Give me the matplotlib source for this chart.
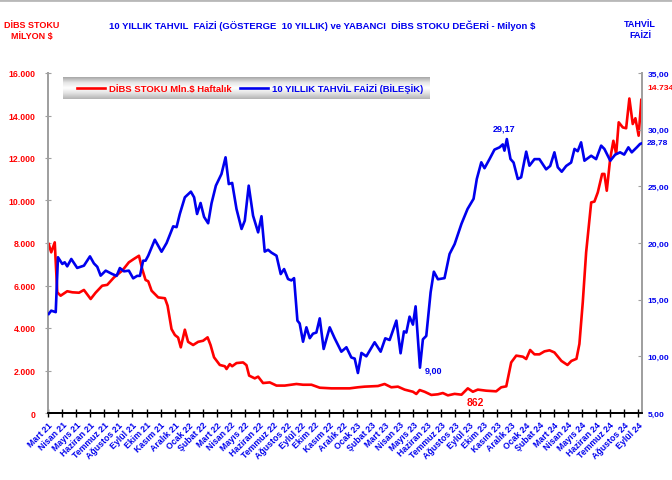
import matplotlib
matplotlib.use("Agg")
import matplotlib.pyplot as plt
import numpy as np
from matplotlib.lines import Line2D
from matplotlib.colors import LinearSegmentedColormap
from matplotlib.ticker import FuncFormatter, MultipleLocator

plt.rcParams['font.family'] = ['Liberation Sans Narrow', 'Liberation Sans', 'DejaVu Sans']
plt.rcParams['font.weight'] = 'bold'

RED = "#ff0000"
BLUE = "#0000ee"

# month labels (Mart 21 .. Eylul 24), one per month
month_names = ["Mart", "Nisan", "Mayıs", "Haziran", "Temmuz", "Ağustos", "Eylül",
               "Ekim", "Kasım", "Aralık", "Ocak", "Şubat"]
years = [21] * 10 + [22] * 12 + [23] * 12 + [24] * 9
month_labels = [f"{month_names[i % 12]} {years[i]}" for i in range(43)]

# DIBS stock of foreign investors, mln $ (x in months since Mart 21)
dibs_x = [0.03, 0.21, 0.46, 0.64, 0.88, 1.35, 1.71, 2.19, 2.54, 3.02, 3.37, 3.84, 4.20,
          4.68, 5.27, 5.74, 6.10, 6.46, 6.69, 6.93, 7.12, 7.36, 7.83, 8.31, 8.50, 8.78,
          9.02, 9.25, 9.44, 9.73, 9.96, 10.32, 10.68, 11.03, 11.35, 11.56, 11.81, 12.22,
          12.58, 12.70, 12.93, 13.10, 13.41, 13.88, 14.12, 14.31, 14.71, 14.95, 15.30,
          15.78, 16.26, 16.85, 17.68, 18.15, 18.75, 19.34, 20.17, 20.88, 21.47, 22.06,
          22.54, 23.49, 23.96, 24.44, 24.91, 25.39, 25.98, 26.22, 26.46, 26.81, 27.29,
          27.76, 28.11, 28.47, 28.95, 29.44, 29.89, 30.25, 30.60, 31.20, 31.91, 32.27,
          32.63, 32.98, 33.34, 33.81, 34.05, 34.33, 34.64, 34.99, 35.35, 35.71, 36.06,
          36.56, 36.99, 37.27, 37.63, 37.84, 38.08, 38.32, 38.68, 38.91, 39.15, 39.46,
          39.62, 39.79, 40.03, 40.26, 40.46, 40.64, 40.93, 41.17, 41.40, 41.64, 41.83,
          42.06, 42.25]
dibs_y = [7950, 7560, 8030, 5680, 5520, 5730, 5680, 5660, 5790, 5365, 5660, 5990, 6030,
          6380, 6700, 7090, 7250, 7400, 6780, 6260, 6200, 5755, 5440, 5400, 5050, 3950,
          3670, 3550, 3090, 3920, 3350, 3200, 3350, 3400, 3560, 3200, 2620, 2260,
          2200, 2070, 2300, 2200, 2350, 2380, 2250, 1760, 1630, 1710, 1410,
          1440, 1290, 1290, 1365, 1330, 1330, 1190, 1160, 1160, 1160, 1210,
          1240, 1270, 1365, 1210, 1240, 1100, 1000, 895, 1080, 1000, 850,
          880, 940, 830, 900, 862, 1160, 1000, 1100, 1050, 1020, 1210,
          1255, 2380, 2700, 2650, 2540, 2965, 2760, 2760, 2900, 2950, 2850,
          2450, 2260, 2450, 2550, 3250, 5210, 7560, 9910, 9950, 10380, 11250,
          11250, 10460, 11950, 12810, 12190, 13680, 13440, 13400, 14800, 13600, 13870,
          13050, 14734]

# 10-year bond yield, % (compound)
bond_x = [0.03, 0.21, 0.53, 0.69, 1.00, 1.17, 1.35, 1.64, 2.06, 2.54, 2.97, 3.25, 3.49,
          3.73, 4.09, 4.56, 4.87, 5.10, 5.39, 5.74, 6.05, 6.33, 6.53, 6.76, 6.93, 7.12,
          7.59, 8.07, 8.43, 8.90, 9.14, 9.37, 9.73, 10.16, 10.39, 10.60, 10.85, 11.10,
          11.39, 11.63, 11.94, 12.34, 12.63, 12.86, 13.10, 13.41, 13.77, 14.00, 14.28,
          14.59, 14.95, 15.19, 15.42, 15.66, 15.90, 16.26, 16.56, 16.80, 17.08, 17.32,
          17.51, 17.75, 17.91, 18.15, 18.39, 18.63, 18.86, 19.10, 19.34, 19.62, 20.05,
          20.40, 20.88, 21.24, 21.59, 21.83, 22.06, 22.31, 22.66, 23.25, 23.68, 24.01,
          24.32, 24.80, 25.10, 25.34, 25.51, 25.74, 25.98, 26.17, 26.48, 26.69, 26.93,
          27.24, 27.47, 27.76, 28.23, 28.59, 28.95, 29.44, 29.87, 30.30, 30.53, 30.85,
          31.08, 31.44, 31.79, 32.15, 32.38, 32.50, 32.67, 32.93, 33.15, 33.45, 33.69,
          34.05, 34.28, 34.64, 34.99, 35.47, 35.76, 36.06, 36.30, 36.58, 36.90, 37.25,
          37.49, 37.72, 37.96, 38.20, 38.68, 39.03, 39.39, 39.62, 40.04, 40.39, 40.74,
          41.03, 41.33, 41.57, 41.93, 42.16, 42.25]
bond_y = [13.74, 14.03, 13.9, 18.74, 18.15, 18.3, 17.94, 18.59, 17.8, 18.0, 18.82, 18.2,
          17.9, 17.12, 17.56, 17.26, 17.1, 17.79, 17.5, 17.56, 16.88, 17.1, 17.1, 18.44,
          18.44, 18.88, 20.29, 19.23, 20.0, 21.47, 21.4, 22.56, 24.03, 24.53, 24.03, 22.56,
          23.53, 22.3, 21.74, 23.5, 25.06, 26.09, 27.56, 25.2, 25.3, 23.0, 21.24, 21.97,
          25.06, 22.41, 20.94, 22.36, 19.24, 19.4, 19.15, 18.88, 17.26, 17.7, 16.82, 16.7,
          16.9, 13.15, 12.9, 11.29, 12.56, 11.6, 12.0, 12.1, 13.35, 10.65, 12.56, 11.6,
          10.41, 10.8, 9.9, 9.8, 8.53, 10.3, 10.0, 11.24, 10.41, 11.59, 11.44, 13.15,
          10.27, 12.2, 12.1, 13.5, 12.8, 14.41, 9.00, 11.5, 11.8, 15.65, 17.47, 16.8,
          16.9, 19.03, 19.9, 21.7, 23.0, 23.9, 25.65, 27.12, 26.6, 27.41, 28.24, 28.44,
          28.7, 28.15, 29.17, 27.41, 27.1, 25.65, 25.8, 28.06, 26.82, 27.4, 27.4, 26.5,
          26.8, 28.0, 26.68, 26.29, 26.8, 27.1, 28.3, 28.1, 28.88, 27.26, 27.7, 27.4,
          28.59, 28.3, 27.26, 27.8, 28.0, 27.8, 28.44, 28.0, 28.44, 28.74, 28.78]

fig = plt.figure(figsize=(6.72, 4.81), dpi=100)
ax = fig.add_axes([48 / 672, 1 - 414 / 481, 594 / 672, 340 / 481])
ax2 = ax.twinx()

l1, = ax.plot(dibs_x, dibs_y, color=RED, lw=1.9, solid_joinstyle="round",
              label="DİBS STOKU Mln.$ Haftalık", zorder=3)
l2, = ax2.plot(bond_x, bond_y, color=BLUE, lw=1.9, solid_joinstyle="round",
               label="10 YILLIK TAHVİL FAİZİ (BİLEŞİK)", zorder=3)

ax.set_xlim(-0.02, 42.3)
ax.set_ylim(0, 16000)
ax2.set_ylim(5, 35)
ax.yaxis.set_major_locator(MultipleLocator(2000))
ax2.yaxis.set_major_locator(MultipleLocator(5))
ax.yaxis.set_major_formatter(FuncFormatter(lambda v, p: f"{int(v):,}".replace(",", ".")))
ax2.yaxis.set_major_formatter(FuncFormatter(lambda v, p: f"{v:.2f}".replace(".", ",")))

ax.set_xticks(np.arange(43))
ax.set_xticklabels(month_labels, rotation=45, ha="right", va="top",
                   rotation_mode="anchor", color=BLUE, fontsize=6.3)
ax.tick_params(axis="x", direction="inout", length=6, width=1, color="black", pad=2)
ax.tick_params(axis="y", direction="inout", length=4, color="#a0a0a0",
               labelcolor=RED, labelsize=6.3, pad=7)
ax2.tick_params(axis="y", direction="in", length=3, color="#a0a0a0",
                labelcolor=BLUE, labelsize=6.1, pad=4)

for a in (ax, ax2):
    a.spines["top"].set_visible(False)
    a.spines["left"].set_color("#a0a0a0")
    a.spines["right"].set_color("#a0a0a0")
    a.spines["left"].set_linewidth(1.3)
    a.spines["right"].set_linewidth(1.3)
    a.spines["bottom"].set_color("black")
    a.spines["bottom"].set_linewidth(1.3)

# data labels
ax.text(30.44, 518, "862", color=RED, fontsize=7.5, ha="center", va="center")
ax2.text(27.45, 8.79, "9,00", color=BLUE, fontsize=6.5, ha="center", va="center")
ax2.text(32.44, 30.15, "29,17", color=BLUE, fontsize=6.5, ha="center", va="center")
fig.text(647 / 672, 1 - 143 / 481, "28,78", color=BLUE, fontsize=6.1, va="center")
fig.text(647 / 672, 1 - 89 / 481, "14.734", color=RED, fontsize=6.1, va="center")

# titles
fig.text(322 / 672, 1 - 26 / 481,
         "10 YILLIK TAHVIL  FAİZİ (GÖSTERGE  10 YILLIK) ve YABANCI  DİBS STOKU DEĞERİ - Milyon $",
         color=BLUE, fontsize=6.8, ha="center", va="center")
fig.text(32 / 672, 1 - 31 / 481, "DİBS STOKU\nMİLYON $", color=RED, fontsize=6.5,
         ha="center", va="center", linespacing=1.15)
fig.text(640 / 672, 1 - 30 / 481, "TAHVİL\nFAİZİ", color=BLUE, fontsize=6.5,
         ha="center", va="center", linespacing=1.15)
fig.add_artist(Line2D([0, 1], [0.997, 0.997], color="#b8b8b8", lw=2))

# legend with silver gradient band
lax = fig.add_axes([63 / 672, 1 - 100 / 481, 367 / 672, 22 / 481])
silver = LinearSegmentedColormap.from_list(
    "silver", ["#a8a8a8", "#e6e6e6", "#ffffff", "#e0e0e0", "#b4b4b4"])
lax.imshow(np.linspace(0, 1, 60)[:, None], aspect="auto", cmap=silver,
           extent=[0, 1, 0, 1])
lax.axis("off")
fig.legend(handles=[l1, l2], loc="center left",
           bbox_to_anchor=(68 / 672, 1 - 89 / 481), ncol=2, frameon=False,
           fontsize=6.8, handlelength=3.0, handletextpad=0.4, columnspacing=0.9,
           labelcolor="linecolor")

fig.savefig("out.png", dpi=100)
